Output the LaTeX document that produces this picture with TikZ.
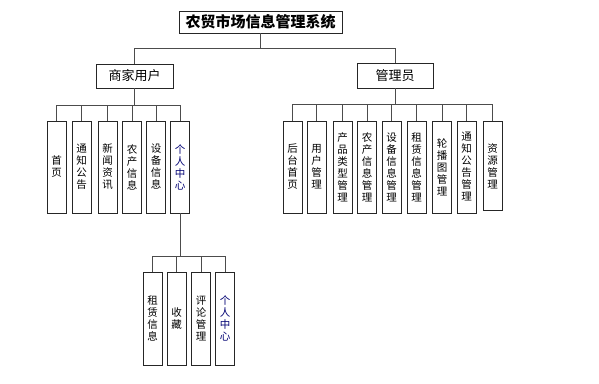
\documentclass[tikz,border=0pt]{standalone}
\usepackage{fontspec}
\setmainfont{Noto Sans CJK SC}
\newfontfamily\cjk{Noto Sans CJK SC}
\begin{document}
\begin{tikzpicture}[x=1pt,y=-1pt,
  box/.style={draw=black!85,line width=0.8pt,fill=white,inner sep=0pt,anchor=center},
  vbox/.style={box,minimum width=19pt,minimum height=92pt,align=center,
    font=\cjk\fontsize{10.5}{12}\selectfont},
  link/.style={draw=black!70,line width=0.9pt},
  blu/.style={text=blue!45!black}]
\useasboundingbox[fill=white] (0,0) rectangle (599,383);
\node[box,minimum width=163pt,minimum height=22pt,font=\cjk\bfseries\fontsize{15}{15}\selectfont] (title) at (260.5,22) {农贸市场信息管理系统};
\node[box,minimum width=77pt,minimum height=24pt,font=\cjk\fontsize{13}{13}\selectfont] (shop) at (134.5,76) {商家用户};
\node[box,minimum width=76pt,minimum height=25pt,font=\cjk\fontsize{13}{13}\selectfont] (admin) at (395,75.5) {管理员};
\coordinate (busA) at (0,48);
\coordinate (busB) at (0,105);
\coordinate (busC) at (0,104);
\coordinate (busD) at (0,256);
% shop children
\node[vbox] (s1) at (56.5,167) {首\\页};
\node[vbox] (s2) at (81.5,167) {通\\知\\公\\告};
\node[vbox] (s3) at (107.5,167) {新\\闻\\资\\讯};
\node[vbox] (s4) at (132,167) {农\\产\\信\\息};
\node[vbox] (s5) at (156,167) {设\\备\\信\\息};
\node[vbox,blu] (s6) at (180,167) {个\\人\\中\\心};
% admin children
\node[vbox] (a1) at (292.5,167) {后\\台\\首\\页};
\node[vbox] (a2) at (316.5,167) {用\\户\\管\\理};
\node[vbox] (a3) at (342.5,167) {产\\品\\类\\型\\管\\理};
\node[vbox] (a4) at (367,167) {农\\产\\信\\息\\管\\理};
\node[vbox] (a5) at (391.5,167) {设\\备\\信\\息\\管\\理};
\node[vbox] (a6) at (416.5,167) {租\\赁\\信\\息\\管\\理};
\node[vbox] (a7) at (442,167) {轮\\播\\图\\管\\理};
\node[vbox] (a8) at (466.5,167) {通\\知\\公\\告\\管\\理};
\node[vbox,minimum height=89pt] (a9) at (492.5,166) {资\\源\\管\\理};
% personal centre children
\node[vbox,minimum height=93pt] (p1) at (152.5,318.5) {租\\赁\\信\\息};
\node[vbox,minimum height=93pt] (p2) at (176.5,318.5) {收\\藏};
\node[vbox,minimum height=93pt] (p3) at (201,318.5) {评\\论\\管\\理};
\node[vbox,minimum height=93pt,blu] (p4) at (225,318.5) {个\\人\\中\\心};
% connectors
\draw[link] (title.south) -- (title.south |- busA) -| (shop.north);
\draw[link] (title.south |- busA) -| (admin.north);
\foreach \c in {s1,s2,s3,s4,s5,s6}
  \draw[link] (shop.south) -- (shop.south |- busB) -| (\c.north);
\foreach \c in {a1,a2,a3,a4,a5,a6,a7,a8,a9}
  \draw[link] (admin.south) -- (admin.south |- busC) -| (\c.north);
\foreach \c in {p1,p2,p3,p4}
  \draw[link] (s6.south) -- (s6.south |- busD) -| (\c.north);
\end{tikzpicture}
\end{document}
